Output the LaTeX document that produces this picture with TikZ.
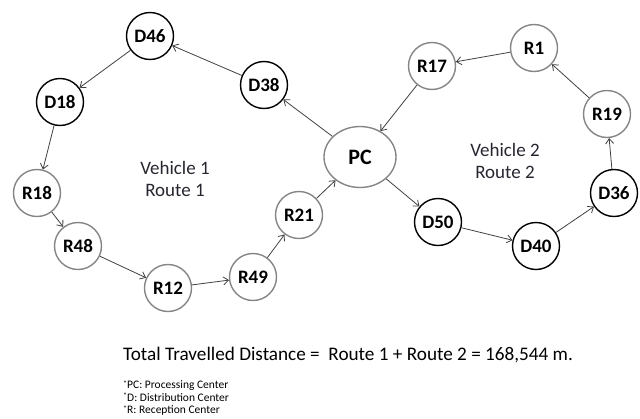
\documentclass[tikz,border=0pt]{standalone}
\usepackage{fontspec}
\setmainfont{Carlito}
\usetikzlibrary{arrows.meta,shapes.geometric}
\definecolor{rgray}{HTML}{858585}
\definecolor{lbl}{HTML}{262630}
\definecolor{edge}{HTML}{404040}
\newcommand{\myast}{\raisebox{2.5pt}{\fontsize{8}{8}\selectfont *}}
\begin{document}
\begin{tikzpicture}[x=1pt,y=-1pt,
  dnode/.style={circle,draw=black,line width=1.4pt,minimum size=47pt,inner sep=0pt,font=\fontsize{19}{19}\selectfont\bfseries},
  rnode/.style={circle,draw=rgray,line width=1.4pt,minimum size=47pt,inner sep=0pt,font=\fontsize{19}{19}\selectfont\bfseries},
  pcnode/.style={ellipse,draw=rgray,line width=1.4pt,minimum width=72pt,minimum height=61pt,inner sep=0pt,font=\fontsize{22}{22}\selectfont\bfseries},
  conn/.style={draw=edge,line width=0.8pt,-{Straight Barb[length=5pt,width=8pt]}},
  lbltext/.style={text=lbl,font=\fontsize{19}{22}\selectfont,align=center},
  note/.style={anchor=north west,font=\fontsize{11.5}{12.5}\selectfont,inner sep=0pt,align=left}]
\useasboundingbox (0,0) rectangle (640,418);
% route 1
\node[pcnode] (pc) at (360,157) {PC};
\node[dnode] (d38) at (264,85) {D38};
\node[dnode] (d46) at (150,36) {D46};
\node[dnode] (d18) at (60,102) {D18};
\node[rnode] (r18) at (37,193) {R18};
\node[rnode] (r48) at (78,246) {R48};
\node[rnode] (r12) at (168,288) {R12};
\node[rnode] (r49) at (253,277) {R49};
\node[rnode] (r21) at (299,215) {R21};
% route 2
\node[rnode] (r17) at (432,66) {R17};
\node[rnode] (r1) at (534,48) {R1};
\node[rnode] (r19) at (607,114) {R19};
\node[dnode] (d36) at (614,193) {D36};
\node[dnode] (d40) at (536,246) {D40};
\node[dnode] (d50) at (438,222) {D50};
% connectors
\draw[conn] (pc) -- (d38);
\draw[conn] (d38) -- (d46);
\draw[conn] (d46) -- (d18);
\draw[conn] (d18) -- (r18);
\draw[conn] (r18) -- (r48);
\draw[conn] (r48) -- (r12);
\draw[conn] (r12) -- (r49);
\draw[conn] (r49) -- (r21);
\draw[conn] (r21) -- (pc);
\draw[conn] (pc) -- (d50);
\draw[conn] (d50) -- (d40);
\draw[conn] (d40) -- (d36);
\draw[conn] (d36) -- (r19);
\draw[conn] (r19) -- (r1);
\draw[conn] (r1) -- (r17);
\draw[conn] (r17) -- (pc);
% labels
\node[lbltext] (v1) at (175,179) {Vehicle 1\\Route 1};
\node[lbltext] (v2) at (505,161) {Vehicle 2\\Route 2};
\node[anchor=west,font=\fontsize{19.2}{19}\selectfont,inner sep=0pt] (tot) at (123,355) {Total Travelled Distance =\ \ Route 1 + Route 2 = 168,544 m.};
\node[note] (notes) at (123,380.5) {\myast PC: Processing Center\\\myast D: Distribution Center\\\myast R: Reception Center};
\end{tikzpicture}
\end{document}
